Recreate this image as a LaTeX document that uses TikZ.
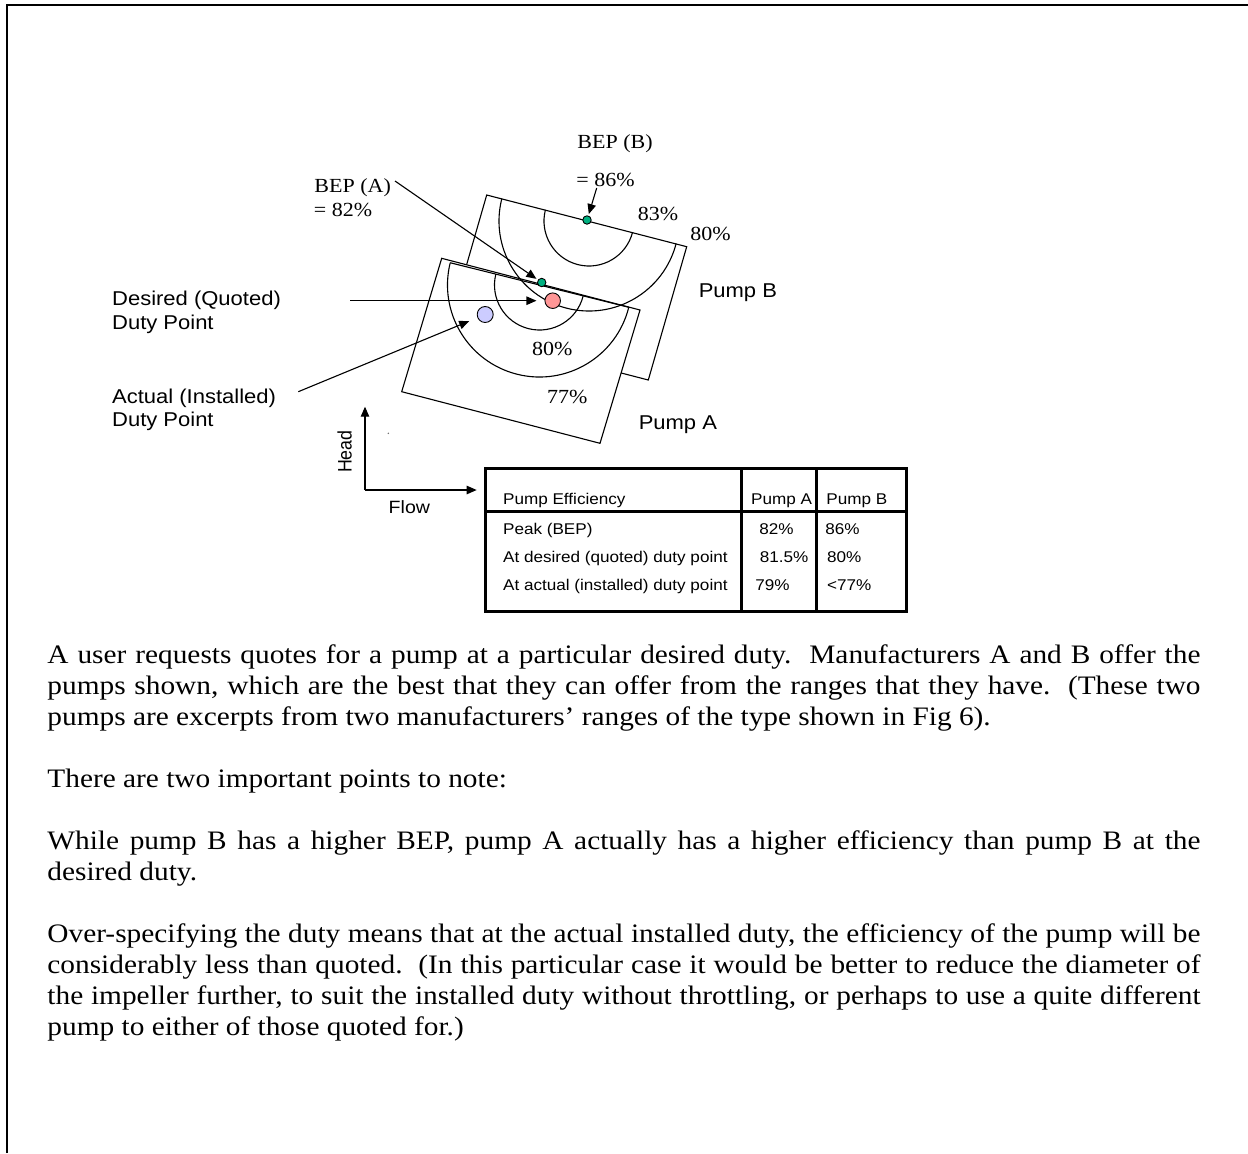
\documentclass[tikz,border=0pt]{standalone}
\usepackage{fontspec}
\usepackage{graphicx}
\setmainfont{Liberation Serif}
\newfontfamily\arialf{Liberation Sans}
\usetikzlibrary{arrows.meta}
\definecolor{bepgreen}{RGB}{0,176,128}
\definecolor{dutyred}{RGB}{255,150,150}
\definecolor{dutyblue}{RGB}{204,204,255}
\newcommand{\hs}[1]{\scalebox{1.1}[1]{#1}}
\newcommand{\jline}[1]{\hs{\makebox[471.7pt][s]{#1}}}
\begin{document}
\begin{tikzpicture}[x=0.45pt,y=-0.45pt,
  pline/.style={line width=0.5pt},
  arr/.style={line width=0.5pt,-{Triangle[length=4.5pt,width=3.8pt]}},
  dot/.style={circle,draw,line width=0.4pt,inner sep=0pt},
  lbl/.style={anchor=base west,inner sep=0pt},
  serifl/.style={lbl,font=\fontsize{9}{10.8}\selectfont},
  sansl/.style={lbl,font=\arialf\fontsize{9}{10.8}\selectfont},
  axisl/.style={lbl,font=\arialf\fontsize{8}{9.6}\selectfont},
  tabt/.style={lbl,font=\arialf\fontsize{7}{8.4}\selectfont},
  body/.style={lbl,font=\fontsize{12}{13.95}\selectfont},
  tbl/.style={line width=1.35pt}
]
\useasboundingbox (0,0) rectangle (1248,1153);
% frame (top and left)
\draw[line width=1pt] (7,1153) -- (7,5.3) -- (1248,5.3);

% pump B rectangle
\draw[pline,fill=white] (486.7,195) -- (686.7,246.7) -- (648.3,380) -- (448.3,328.3) -- cycle;
% pump A rectangle
\draw[pline,fill=white] (441.7,258.3) -- (640,310) -- (600,443.3) -- (401.7,391.7) -- cycle;
% pump A contours
\begin{scope}[shift={(539.5,285)},rotate=-14]
  \draw[pline] (-92,0) -- (92,0);
  \draw[pline] (-92,0) arc[start angle=180,end angle=0,radius=92];
  \draw[pline] (-45,0) arc[start angle=180,end angle=0,radius=45];
\end{scope}
% pump B contours
\begin{scope}[shift={(589,221)},rotate=-14.5]
  \draw[pline] (-90,0) arc[start angle=180,end angle=0,radius=90];
  \draw[pline] (-45,0) arc[start angle=180,end angle=0,radius=45];
\end{scope}

% points
\node[dot,fill=bepgreen,minimum size=3.8pt] (bepBdot) at (587,220) {};
\node[dot,fill=bepgreen,minimum size=3.8pt] (bepAdot) at (541.7,282.5) {};
\node[dot,fill=dutyred,minimum size=7pt] (desdot) at (552.7,300.7) {};
\node[dot,fill=dutyblue,minimum size=7.2pt] (actdot) at (485.2,314.5) {};
\fill[black!60] (388.3,433.3) circle[radius=0.8];

% labels
\node[serifl] (bepB1) at (577,148.5) {\hs{BEP (B)}};
\node[serifl] (bepB2) at (576,186.5) {\hs{= 86\%}};
\node[serifl] (bepA1) at (314,192.7) {\hs{BEP (A)}};
\node[serifl] (bepA2) at (313.5,216.5) {\hs{= 82\%}};
\node[serifl] (l83) at (637.3,220) {\hs{83\%}};
\node[serifl] (l80B) at (690,240.7) {\hs{80\%}};
\node[serifl] (l80A) at (531.7,355) {\hs{80\%}};
\node[serifl] (l77) at (546.7,403.3) {\hs{77\%}};
\node[sansl] (pumpB) at (698.3,297) {\hs{Pump B}};
\node[sansl] (pumpA) at (638.3,429.3) {\hs{Pump A}};
\node[sansl] (des1) at (111.7,305.7) {\hs{Desired (Quoted)}};
\node[sansl] (des2) at (111.7,329) {\hs{Duty Point}};
\node[sansl] (act1) at (111.7,403.3) {\hs{Actual (Installed)}};
\node[sansl] (act2) at (111.7,426.7) {\hs{Duty Point}};
\node[axisl] (flow) at (388.3,513) {\hs{Flow}};
\node[axisl,rotate=90] (head) at (351.7,473.3) {\scalebox{1}[1.1]{Head}};

% arrows
\coordinate (bepBstart) at (596.7,188);
\coordinate (bepAstart) at (395,181);
\coordinate (desstart) at (350,300.7);
\coordinate (actstart) at (298.3,391.7);
\draw[arr,shorten >=0.7pt] (bepBstart) -- (bepBdot);
\draw[arr,shorten >=0.8pt] (bepAstart) -- (bepAdot);
\draw[arr,shorten >=3.6pt] (desstart) -- (desdot);
\draw[arr,shorten >=4pt] (actstart) -- (actdot);

% axes
\coordinate (origin) at (365,490);
\coordinate (headtip) at (365,406.7);
\coordinate (flowtip) at (476.7,490);
\draw[arr] (origin) -- (headtip);
\draw[arr] (origin) -- (flowtip);

% table
\draw[tbl] (485,468.3) rectangle (906.7,611.7);
\draw[tbl] (741,468.3) -- (741,611.7);
\draw[tbl] (816.7,468.3) -- (816.7,611.7);
\draw[tbl] (485,511.7) -- (906.7,511.7);
\node[tabt] (tEff) at (502.7,504) {\hs{Pump Efficiency}};
\node[tabt] (tPA) at (750.7,504) {\hs{Pump A}};
\node[tabt] (tPB) at (826,504) {\hs{Pump B}};
\node[tabt] (r1) at (502.7,534) {\hs{Peak (BEP)}};
\node[tabt] (r1a) at (759,534) {\hs{82\%}};
\node[tabt] (r1b) at (825,534) {\hs{86\%}};
\node[tabt] (r2) at (502.7,562) {\hs{At desired (quoted) duty point}};
\node[tabt] (r2a) at (759.3,562) {\hs{81.5\%}};
\node[tabt] (r2b) at (826.7,562) {\hs{80\%}};
\node[tabt] (r3) at (502.7,590.5) {\hs{At actual (installed) duty point}};
\node[tabt] (r3a) at (755,590.5) {\hs{79\%}};
\node[tabt] (r3b) at (826.7,590.5) {\hs{<77\%}};

% body text
\node[body] (p1a) at (47,663) {\jline{A user requests quotes for a pump at a particular desired duty.\ \ Manufacturers A and B offer the}};
\node[body] (p1b) at (47,694) {\jline{pumps shown, which are the best that they can offer from the ranges that they have.\ \ (These two}};
\node[body] (p1c) at (47,725) {\hs{pumps are excerpts from two manufacturers’ ranges of the type shown in Fig 6).}};
\node[body] (p2) at (47,787) {\hs{There are two important points to note:}};
\node[body] (p3a) at (47,849) {\jline{While pump B has a higher BEP, pump A actually has a higher efficiency than pump B at the}};
\node[body] (p3b) at (47,880) {\hs{desired duty.}};
\node[body] (p4a) at (47,942) {\jline{Over-specifying the duty means that at the actual installed duty, the efficiency of the pump will be}};
\node[body] (p4b) at (47,973) {\jline{considerably less than quoted.\ \ (In this particular case it would be better to reduce the diameter of}};
\node[body] (p4c) at (47,1004) {\jline{the impeller further, to suit the installed duty without throttling, or perhaps to use a quite different}};
\node[body] (p4d) at (47,1035) {\hs{pump to either of those quoted for.)}};
\end{tikzpicture}
\end{document}
